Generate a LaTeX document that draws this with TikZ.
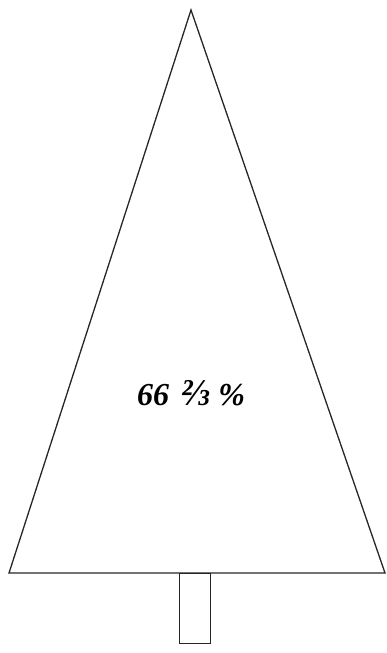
\documentclass[tikz,border=0pt]{standalone}
\usepackage{fontspec}
\setmainfont{Liberation Serif}
\begin{document}
\begin{tikzpicture}[x=1pt,y=-1pt,
  outline/.style={draw=black!85,line width=1.3pt,line join=miter},
  label/.style={font=\fontsize{32}{34}\selectfont\bfseries\itshape,inner sep=0pt}]
\useasboundingbox (0,0) rectangle (386,653);
\coordinate (apex) at (191,10);
\coordinate (bl) at (9,573);
\coordinate (br) at (385,573);
\draw[outline] (apex) -- (br) -- (bl) -- cycle;
\node[outline,minimum width=31pt,minimum height=70pt,inner sep=0pt,anchor=north] (trunk) at (195,573) {};
\node[label] (pct) at (191,393) {66\kern0.4em{\fontsize{38}{40}\selectfont ⅔}\kern0.25em\%};
\end{tikzpicture}
\end{document}
